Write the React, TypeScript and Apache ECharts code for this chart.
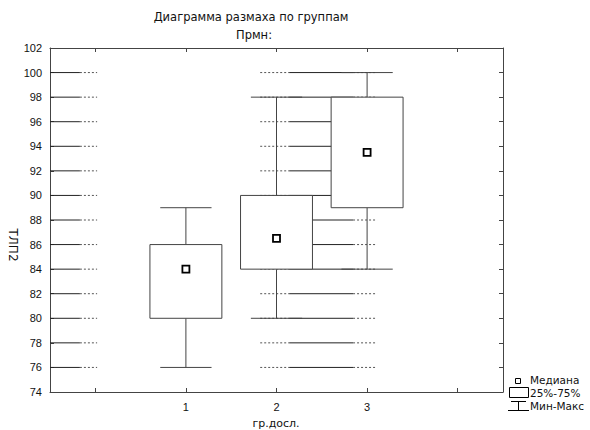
import React, { useEffect, useRef } from "react";
import * as echarts from "echarts";

const categories = ["", "1", "2", "3", ""];
const groupIndex = [1, 2, 3];
const minValues = [76, 80, 84];
const q1Values = [80, 84, 89];
const medianValues = [84, 86.5, 93.5];
const q3Values = [86, 90, 98];
const maxValues = [89, 98, 100];
const gridTicks = [76, 78, 80, 82, 84, 86, 88, 90, 92, 94, 96, 98, 100];

const titleText = "Диаграмма размаха по группам";
const subtitleText = "Прмн:";
const yName = "ТЛП2";
const xName = "гр.досл.";
const legendLabels = ["Медиана", "25%-75%", "Мин-Макс"];

const FONT = "Liberation Sans, Arial, sans-serif";
const WIDE = "DejaVu Sans, sans-serif";
const LINE = "#444";

export default function App() {
  const ref = useRef<HTMLDivElement>(null);
  useEffect(() => {
    if (!ref.current) return;
    const chart = echarts.init(ref.current, undefined, { renderer: "svg" });

    const boxData = groupIndex.map((g, i) => [
      g,
      minValues[i],
      q1Values[i],
      medianValues[i],
      q3Values[i],
      maxValues[i],
    ]);

    const option: any = {
      animation: false,
      backgroundColor: "#fff",
      textStyle: { fontFamily: FONT },
      grid: { left: 50, top: 48, width: 453, height: 344, containLabel: false },
      xAxis: [
        {
          type: "category",
          data: categories,
          position: "bottom",
          boundaryGap: true,
          axisLine: { show: true, lineStyle: { color: LINE, width: 1 } },
          axisTick: { show: true, inside: true, alignWithLabel: true, length: 4, lineStyle: { color: LINE } },
          axisLabel: { show: true, fontSize: 11, color: "#111", margin: 9, fontFamily: FONT },
          splitLine: { show: false },
        },
        {
          type: "category",
          data: categories,
          position: "top",
          boundaryGap: true,
          axisLine: { show: true, lineStyle: { color: LINE, width: 1 } },
          axisTick: { show: true, inside: true, alignWithLabel: true, length: 4, lineStyle: { color: LINE } },
          axisLabel: { show: false },
          splitLine: { show: false },
        },
      ],
      yAxis: [
        {
          type: "value",
          min: 74,
          max: 102,
          interval: 2,
          position: "left",
          axisLine: { show: true, lineStyle: { color: LINE, width: 1 } },
          axisTick: { show: true, inside: true, length: 4, lineStyle: { color: LINE } },
          axisLabel: { show: true, fontSize: 11, color: "#111", margin: 8, fontFamily: FONT },
          splitLine: { show: false },
        },
        {
          type: "value",
          min: 74,
          max: 102,
          interval: 2,
          position: "right",
          axisLine: { show: true, lineStyle: { color: LINE, width: 1 } },
          axisTick: { show: true, inside: true, length: 4, lineStyle: { color: LINE } },
          axisLabel: { show: false },
          splitLine: { show: false },
        },
      ],
      series: [
        {
          type: "custom",
          name: "grid",
          xAxisIndex: 0,
          yAxisIndex: 0,
          z: 1,
          silent: true,
          encode: { x: 0, y: 1 },
          data: gridTicks.map((v) => [0, v]),
          renderItem: (params: any, api: any) => {
            const v = api.value(1);
            const band = api.size([1, 0])[0];
            const c0 = api.coord([0, v]);
            const c2 = api.coord([2, v]);
            const c3 = api.coord([3, v]);
            const y = c0[1];
            const solid = { stroke: "#222", lineWidth: 1 };
            const dotted = { stroke: "#555", lineWidth: 1, lineDash: [2, 2] };
            const seg = (x1: number, x2: number, style: any) => ({
              type: "line",
              shape: { x1, y1: y, x2, y2: y },
              style,
            });
            return {
              type: "group",
              children: [
                seg(c0[0] - 0.5 * band, c0[0] - 0.17 * band, solid),
                seg(c0[0] - 0.17 * band, c0[0] + 0.02 * band, dotted),
                seg(c2[0] - 0.18 * band, c2[0] + 0.14 * band, dotted),
                seg(c2[0] + 0.14 * band, c3[0] - 0.155 * band, solid),
                seg(c3[0] - 0.155 * band, c3[0] + 0.11 * band, dotted),
              ],
            };
          },
        },
        {
          type: "custom",
          name: "box",
          xAxisIndex: 0,
          yAxisIndex: 0,
          z: 5,
          encode: { x: 0, y: [1, 2, 3, 4, 5] },
          data: boxData,
          renderItem: (params: any, api: any) => {
            const idx = api.value(0);
            const band = api.size([1, 0])[0];
            const cx = api.coord([idx, 0])[0];
            const yMin = api.coord([idx, api.value(1)])[1];
            const yQ1 = api.coord([idx, api.value(2)])[1];
            const yMed = api.coord([idx, api.value(3)])[1];
            const yQ3 = api.coord([idx, api.value(4)])[1];
            const yMax = api.coord([idx, api.value(5)])[1];
            const hw = 0.397 * band;
            const cw = 0.283 * band;
            const ls = { stroke: LINE, lineWidth: 1 };
            const ms = 7;
            return {
              type: "group",
              children: [
                { type: "line", shape: { x1: cx, y1: yQ3, x2: cx, y2: yMax }, style: ls },
                { type: "line", shape: { x1: cx, y1: yQ1, x2: cx, y2: yMin }, style: ls },
                { type: "line", shape: { x1: cx - cw, y1: yMax, x2: cx + cw, y2: yMax }, style: ls },
                { type: "line", shape: { x1: cx - cw, y1: yMin, x2: cx + cw, y2: yMin }, style: ls },
                {
                  type: "rect",
                  shape: { x: cx - hw, y: yQ3, width: 2 * hw, height: yQ1 - yQ3 },
                  style: { fill: "#fff", stroke: LINE, lineWidth: 1 },
                },
                {
                  type: "rect",
                  shape: { x: cx - ms / 2, y: yMed - ms / 2, width: ms, height: ms },
                  style: { fill: "#fff", stroke: "#000", lineWidth: 1.8 },
                },
              ],
            };
          },
        },
      ],
      graphic: [
        {
          type: "text",
          x: 251,
          y: 17,
          style: { text: titleText, fontSize: 11.5, fill: "#111", fontFamily: WIDE, align: "center", verticalAlign: "middle" },
        },
        {
          type: "text",
          x: 254,
          y: 35,
          style: { text: subtitleText, fontSize: 11.5, fill: "#111", fontFamily: WIDE, align: "center", verticalAlign: "middle" },
        },
        {
          type: "text",
          x: 13,
          y: 245,
          rotation: -Math.PI / 2,
          style: { text: yName, fontSize: 12, fill: "#111", fontFamily: WIDE, align: "center", verticalAlign: "middle" },
        },
        {
          type: "text",
          x: 276,
          y: 423,
          style: { text: xName, fontSize: 11, fill: "#111", fontFamily: WIDE, align: "center", verticalAlign: "middle" },
        },
        {
          type: "rect",
          shape: { x: 515.5, y: 378.5, width: 5, height: 5 },
          style: { fill: "#fff", stroke: "#000", lineWidth: 1 },
        },
        {
          type: "text",
          x: 530,
          y: 380,
          style: { text: legendLabels[0], fontSize: 10.5, fill: "#111", fontFamily: WIDE, align: "left", verticalAlign: "middle" },
        },
        {
          type: "rect",
          shape: { x: 509.5, y: 387.5, width: 19, height: 10 },
          style: { fill: "#fff", stroke: "#000", lineWidth: 1 },
        },
        {
          type: "text",
          x: 530,
          y: 393,
          style: { text: legendLabels[1], fontSize: 10.5, fill: "#111", fontFamily: WIDE, align: "left", verticalAlign: "middle" },
        },
        {
          type: "line",
          shape: { x1: 511, y1: 401.5, x2: 526, y2: 401.5 },
          style: { stroke: "#000", lineWidth: 1 },
        },
        {
          type: "line",
          shape: { x1: 518.5, y1: 401.5, x2: 518.5, y2: 410.5 },
          style: { stroke: "#000", lineWidth: 1 },
        },
        {
          type: "line",
          shape: { x1: 508, y1: 410.5, x2: 529, y2: 410.5 },
          style: { stroke: "#000", lineWidth: 1 },
        },
        {
          type: "text",
          x: 530,
          y: 406,
          style: { text: legendLabels[2], fontSize: 10.5, fill: "#111", fontFamily: WIDE, align: "left", verticalAlign: "middle" },
        },
      ],
    };
    chart.setOption(option);
    return () => chart.dispose();
  }, []);

  return (
    <div
      ref={ref}
      style={{ position: "absolute", left: 0, top: 0, width: 590, height: 430, background: "#fff" }}
    />
  );
}
